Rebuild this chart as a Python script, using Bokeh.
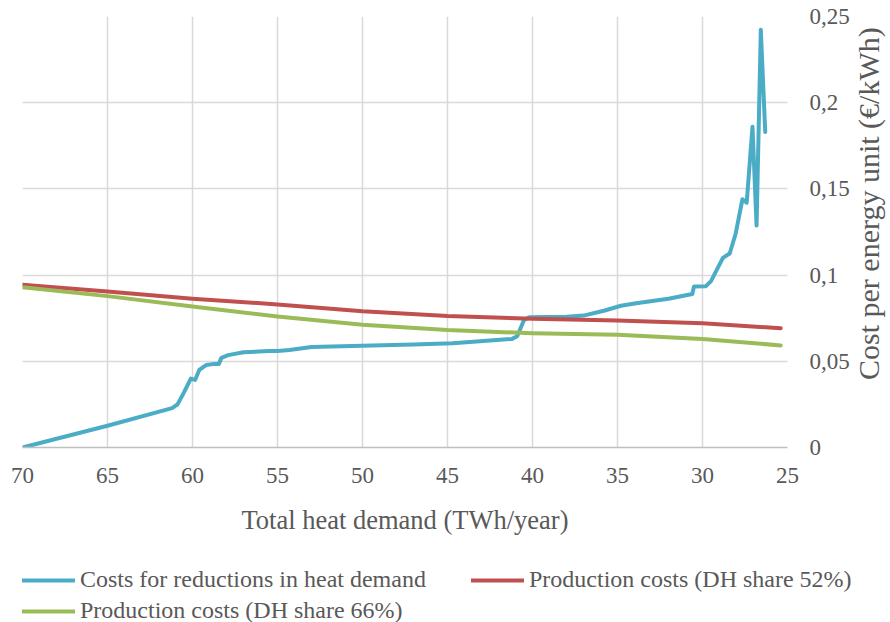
import math
from bokeh.plotting import figure
from bokeh.layouts import column
from bokeh.models import (Range1d, FixedTicker, CustomJSTickFormatter, Legend, LegendItem,
                          LinearAxis)
from bokeh.embed import file_html
from bokeh.resources import INLINE

# ---- data ----
x_ticks = [70, 65, 60, 55, 50, 45, 40, 35, 30, 25]
y_ticks = [0, 0.05, 0.1, 0.15, 0.2, 0.25]

blue_x = [70, 65, 61.2, 60.88, 60.5, 60.1, 59.85, 59.6, 59.2, 58.7, 58.45, 58.3, 57.9, 57.0,
          55.5, 55, 54.3, 53, 50, 47, 44.7, 42.5, 41.2, 40.9, 40.5, 40.2, 38, 37, 35.8,
          34.8, 33.9, 32, 30.6, 30.5, 29.8, 29.5, 28.8, 28.4, 28.05, 27.65, 27.4, 27.06,
          26.82, 26.57, 26.31]
blue_y = [0, 0.0126, 0.0228, 0.0250, 0.0320, 0.0400, 0.0392, 0.0450, 0.0478, 0.0485, 0.0485,
          0.0520, 0.0536, 0.0552, 0.0560, 0.0560, 0.0565, 0.0583, 0.0590, 0.0597, 0.0605,
          0.0620, 0.0630, 0.0645, 0.0740, 0.0756, 0.0758, 0.0765, 0.0793, 0.0822, 0.0837,
          0.0863, 0.0890, 0.0934, 0.0936, 0.0965, 0.1100, 0.1125, 0.1240, 0.1440, 0.1420,
          0.1860, 0.1288, 0.2423, 0.1830]

red_x = [70, 65, 60, 55, 50, 45, 40, 35, 30, 25.4]
red_y = [0.0944, 0.0905, 0.0863, 0.0830, 0.0791, 0.0763, 0.0747, 0.0737, 0.0721, 0.0692]

green_x = [70, 65, 60, 55, 50, 45, 40, 35, 30, 25.4]
green_y = [0.0930, 0.0878, 0.0818, 0.0760, 0.0712, 0.0681, 0.0663, 0.0654, 0.0630, 0.0592]

labels = ["Costs for reductions in heat demand",
          "Production costs (DH share 52%)",
          "Production costs (DH share 66%)"]
x_title = "Total heat demand (TWh/year)"
y_title = "Cost per energy unit (€/kWh)"

FONT = "Liberation Serif"
TXT = "#595959"
COLORS = ["#4BACC6", "#C0504D", "#9BBB59"]

p = figure(frame_width=765, frame_height=431,
           x_range=Range1d(70, 25), y_range=Range1d(0, 0.25),
           y_axis_location="right", output_backend="svg", toolbar_location=None,
           min_border_left=20, min_border_top=16, min_border_right=0,
           min_border_bottom=110)
p.outline_line_color = None
p.background_fill_color = "white"
p.border_fill_color = "white"

# grids
p.xgrid.ticker = FixedTicker(ticks=x_ticks)
p.ygrid.ticker = FixedTicker(ticks=y_ticks)
for g in (p.xgrid, p.ygrid):
    g.grid_line_color = "#D9D9D9"
    g.grid_line_width = 1.5

# x axis
xa = p.xaxis[0]
xa.ticker = FixedTicker(ticks=x_ticks)
xa.axis_label = x_title
xa.axis_line_color = "#BFBFBF"
xa.axis_line_width = 1.5
xa.major_tick_line_color = None
xa.minor_tick_line_color = None
xa.major_tick_out = 0
xa.major_tick_in = 0
xa.major_label_standoff = 20
xa.major_label_text_font = FONT
xa.major_label_text_font_size = "23px"
xa.major_label_text_color = TXT
xa.axis_label_text_font = FONT
xa.axis_label_text_font_size = "26.5px"
xa.axis_label_text_font_style = "normal"
xa.axis_label_text_color = TXT
xa.axis_label_standoff = 19

# y axis (right), tick labels only
ya = p.yaxis[0]
ya.ticker = FixedTicker(ticks=y_ticks)
ya.formatter = CustomJSTickFormatter(code="return String(Math.round(tick*100)/100).replace('.', ',');")
ya.axis_line_color = None
ya.major_tick_line_color = None
ya.minor_tick_line_color = None
ya.major_tick_out = 0
ya.major_tick_in = 0
ya.major_label_standoff = 22
ya.major_label_text_align = "left"
ya.major_label_text_font = FONT
ya.major_label_text_font_size = "23px"
ya.major_label_text_color = TXT

# second right axis carrying only the title (reads bottom to top);
# leading no-break spaces lift the start of the title above the frame bottom
ya2 = LinearAxis(axis_label="\u00a0" * 9 + y_title, ticker=FixedTicker(ticks=[]))
ya2.axis_line_color = None
ya2.major_tick_line_color = None
ya2.minor_tick_line_color = None
ya2.major_tick_out = 0
ya2.major_tick_in = 0
ya2.major_label_standoff = 0
ya2.major_label_text_font_size = "0px"
ya2.axis_label_text_font = FONT
ya2.axis_label_text_font_size = "30px"
ya2.axis_label_text_font_style = "normal"
ya2.axis_label_text_color = TXT
ya2.axis_label_standoff = 16
try:
    ya2.axis_label_orientation = math.pi / 2
except Exception:
    pass
try:
    ya2.axis_label_align = "start"
except Exception:
    pass
p.add_layout(ya2, "right")

series = [(blue_x, blue_y), (red_x, red_y), (green_x, green_y)]
for (xs, ys), c in zip(series, COLORS):
    p.line(xs, ys, line_color=c, line_width=4, line_join="round", line_cap="round")

# legend strip below the chart (its lines lie outside its visible range)
p2 = figure(frame_width=868, frame_height=62, x_range=Range1d(70, 25), y_range=Range1d(1, 2),
            x_axis_location=None, y_axis_location=None, output_backend="svg",
            toolbar_location=None, min_border_left=22, min_border_top=9,
            min_border_right=0, min_border_bottom=0)
p2.outline_line_color = None
p2.grid.visible = False
rs = [p2.line(xs, ys, line_color=c, line_width=4, line_cap="round")
      for (xs, ys), c in zip(series, COLORS)]

legend = Legend(items=[LegendItem(label=labels[0], renderers=[rs[0]]),
                       LegendItem(label=labels[1], renderers=[rs[1]]),
                       LegendItem(label=labels[2], renderers=[rs[2]])],
                ncols=2, orientation="horizontal", location="top_left")
legend.label_text_font = FONT
legend.label_text_font_size = "24px"
legend.label_text_color = TXT
legend.glyph_width = 53
legend.glyph_height = 26
legend.label_standoff = 5
legend.label_width = 387
legend.spacing = 4
legend.padding = 0
legend.margin = 0
legend.border_line_color = None
legend.background_fill_alpha = 0
p2.add_layout(legend, "center")

with open("out.html", "w") as f:
    f.write(file_html(column(p, p2, spacing=0), INLINE))
